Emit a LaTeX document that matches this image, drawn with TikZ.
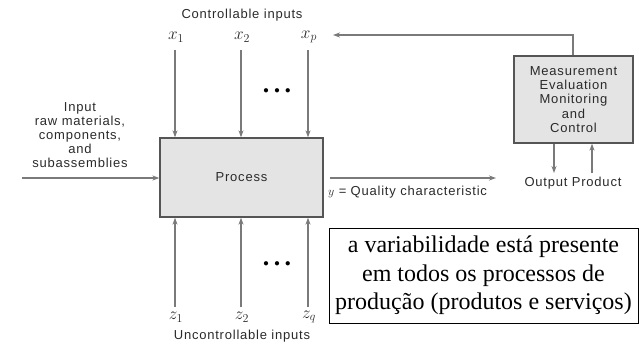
\documentclass[tikz,border=0pt]{standalone}
\usepackage{fontspec}
\setmainfont{Liberation Sans}
\newfontfamily\seriffont{Liberation Serif}
\newfontfamily\lbfont{Liberation Sans}[LetterSpace=6]
\usetikzlibrary{arrows.meta}
\definecolor{arrgray}{HTML}{7A7A7A}
\definecolor{boxfill}{HTML}{E4E4E4}
\definecolor{boxline}{HTML}{555555}
\definecolor{txt}{HTML}{2A2A2A}
\tikzset{
  arr/.style={draw=arrgray, line width=1.6pt, -{Stealth[length=7pt,width=5pt]}},
  procbox/.style={draw=boxline, line width=1.3pt, fill=boxfill, text=txt, font=\lbfont\fontsize{13}{14.4}\selectfont, align=center},
  lbl/.style={text=txt, font=\lbfont\fontsize{13}{14}\selectfont, align=center, inner sep=0pt},
  var/.style={text=txt, font=\fontsize{17}{17}\selectfont, inner sep=0pt},
  dots/.style={text=black, font=\fontsize{11}{11}\selectfont, inner sep=0pt},
  notebox/.style={draw=black, line width=0.6pt, font=\seriffont\fontsize{24}{28.5}\selectfont, align=center, inner sep=0pt}
}
\begin{document}
\begin{tikzpicture}[x=1pt,y=-1pt]
\useasboundingbox (0,0) rectangle (639,346);
% main process
\node[procbox, minimum width=163pt, minimum height=79pt] (proc) at (241.5,177.5) {Process};
% controllable inputs
\node[lbl] (ctl) at (242,15) {Controllable inputs};
\node[var] (x1) at (176,37) {$x_1$};
\node[var] (x2) at (242,37) {$x_2$};
\node[var] (xp) at (309,37) {$x_p$};
\coordinate (a1) at (175,50);
\coordinate (a2) at (241,50);
\coordinate (ap) at (308,50);
\draw[arr] (a1) -- (a1 |- proc.north);
\draw[arr] (a2) -- (a2 |- proc.north);
\draw[arr] (ap) -- (ap |- proc.north);
\node[dots] (dtop) at (277,91) {$\bullet\;\bullet\;\bullet$};
% uncontrollable inputs
\node[lbl] (unc) at (242,336) {Uncontrollable inputs};
\node[var] (z1) at (176,317) {$z_1$};
\node[var] (z2) at (242,317) {$z_2$};
\node[var] (zq) at (309,317) {$z_q$};
\coordinate (b1) at (175,307);
\coordinate (b2) at (241,307);
\coordinate (bq) at (308,307);
\draw[arr] (b1) -- (b1 |- proc.south);
\draw[arr] (b2) -- (b2 |- proc.south);
\draw[arr] (bq) -- (bq |- proc.south);
\node[dots] (dbot) at (277,264) {$\bullet\;\bullet\;\bullet$};
% input
\node[lbl] (inp) at (80,135) {Input\\raw materials,\\components,\\and\\subassemblies};
\coordinate (in0) at (22,178);
\draw[arr] (in0) -- (in0 -| proc.west);
% output
\coordinate (out1) at (496,178);
\draw[arr] (proc.east |- out1) ++(6,0) -- (out1);
\node[lbl, anchor=west] (qc) at (328,192) {$y$ = Quality characteristic};
% measurement box
\node[procbox, minimum width=119pt, minimum height=87pt] (meas) at (573.5,99.5) {Measurement\\Evaluation\\Monitoring\\and\\Control};
\node[lbl] (outp) at (573,183) {Output Product};
\coordinate (fb) at (333,35);
\draw[arr] (meas.north -| 573,0) |- (fb);
\coordinate (d1) at (554,173);
\coordinate (u1) at (592,173);
\draw[arr] (d1 |- meas.south) -- (d1);
\draw[arr] (u1) -- (u1 |- meas.south);
% note
\node[notebox, minimum width=309pt, minimum height=95pt] (note) at (483.5,275.5) {a variabilidade está presente\\em todos os processos de\\produção (produtos e serviços)};
\end{tikzpicture}
\end{document}
